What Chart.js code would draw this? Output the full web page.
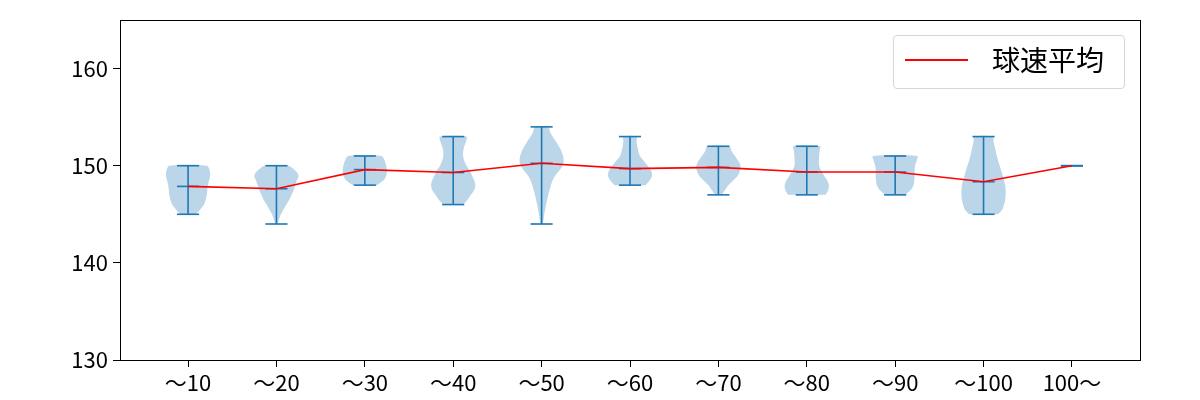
<!DOCTYPE html>
<html>
<head>
<meta charset="utf-8">
<script src="https://cdn.jsdelivr.net/npm/chart.js@4.4.0/dist/chart.umd.min.js"></script>
<style>
  html, body { margin: 0; padding: 0; background: #fff; }
  #wrap { position: relative; width: 1200px; height: 400px; }
  #legend {
    position: absolute; left: 893px; top: 35px; width: 230px; height: 52px;
    border: 1px solid #d6d6d6; border-radius: 4px; background: rgba(255,255,255,.8);
    font-family: "Noto Sans CJK JP", "Noto Sans", sans-serif;
  }
  #legend .swatch { position: absolute; left: 11px; top: 23px; width: 63px; height: 2px; background: #ff0000; }
  #legend .txt { position: absolute; left: 98px; top: 5px; font-size: 28px; line-height: 36px; color: #000; }
</style>
</head>
<body>
<div id="wrap">
  <canvas id="c" width="1200" height="400"></canvas>
  <div id="legend"><span class="swatch"></span><span class="txt">球速平均</span></div>
</div>
<script>
/* violin plot: speed distribution per pitch-count bucket, mean line in red */
const categories = ["〜10", "〜20", "〜30", "〜40", "〜50", "〜60", "〜70", "〜80", "〜90", "〜100", "100〜"];
const minVals  = [145, 144, 148, 146, 144, 148, 147, 147, 147, 145, 150];
const maxVals  = [150, 150, 151, 153, 154, 153, 152, 152, 151, 153, 150];
const meanVals = [147.87, 147.63, 149.6, 149.3, 150.25, 149.7, 149.83, 149.35, 149.35, 148.35, 150.0];
const yTicks = [130, 140, 150, 160];

// relative violin width, read every 0.5 km/h starting at each minimum
const densityStep = 0.5;
const densityWidths = [
  [0.35, 0.55, 0.72, 0.8, 0.85, 0.87, 0.9, 0.95, 1.0, 0.98, 0.85],
  [0.05, 0.12, 0.2, 0.32, 0.45, 0.58, 0.68, 0.78, 0.85, 0.93, 1.0, 0.85, 0.55],
  [0.55, 0.85, 0.97, 1.0, 0.97, 0.9, 0.76],
  [0.45, 0.65, 0.8, 0.95, 1.0, 0.95, 0.85, 0.75, 0.6, 0.5, 0.45, 0.45, 0.5, 0.58, 0.6],
  [0.06, 0.09, 0.12, 0.16, 0.2, 0.25, 0.3, 0.36, 0.42, 0.5, 0.62, 0.8, 0.95, 1.0, 0.97, 0.9, 0.78, 0.65, 0.5, 0.38, 0.3],
  [0.7, 0.9, 1.0, 0.95, 0.8, 0.62, 0.45, 0.38, 0.33, 0.3, 0.3],
  [0.15, 0.3, 0.45, 0.68, 0.88, 0.98, 1.0, 0.9, 0.75, 0.6, 0.5],
  [0.85, 0.97, 1.0, 0.92, 0.78, 0.65, 0.56, 0.55, 0.56, 0.58, 0.6],
  [0.45, 0.7, 0.83, 0.87, 0.88, 0.88, 0.9, 0.97, 1.0],
  [0.65, 0.85, 0.93, 0.98, 1.0, 1.0, 0.98, 0.92, 0.86, 0.8, 0.73, 0.66, 0.6, 0.55, 0.5, 0.45, 0.42],
  [],
];

const FONT = '"Noto Sans CJK JP", "Noto Sans", sans-serif';
const BLUE = "#1f77b4";
const halfWidth = 0.25, capHalf = 0.125;

const datasets = [];
const seg = (pts, extra) => Object.assign({
  type: "scatter", data: pts, showLine: true, pointRadius: 0,
  borderColor: BLUE, borderWidth: 1.6, fill: false, order: 1,
}, extra || {});

categories.forEach((c, i) => {
  const x = i + 1, w = densityWidths[i];
  if (w.length) {
    const right = w.map((v, k) => ({ x: x + halfWidth * v, y: minVals[i] + k * densityStep }));
    const left = w.map((v, k) => ({ x: x - halfWidth * v, y: minVals[i] + k * densityStep })).reverse();
    datasets.push({
      type: "scatter", data: right.concat(left), showLine: true, pointRadius: 0,
      borderWidth: 0, borderColor: "transparent", backgroundColor: "rgba(31,119,180,0.3)",
      fill: "shape", tension: 0.3, order: 3,
    });
  }
  datasets.push(seg([{ x, y: minVals[i] }, { x, y: maxVals[i] }]));
  [minVals[i], maxVals[i], meanVals[i]].forEach(v =>
    datasets.push(seg([{ x: x - capHalf, y: v }, { x: x + capHalf, y: v }])));
});

datasets.push({
  type: "line", label: "球速平均",
  data: meanVals.map((v, i) => ({ x: i + 1, y: v })),
  borderColor: "#ff0000", borderWidth: 1.6, pointRadius: 0, fill: false, tension: 0, order: 0,
});

const frame = {
  id: "frame",
  afterDatasetsDraw(chart) {
    const a = chart.chartArea, ctx = chart.ctx;
    ctx.save();
    ctx.strokeStyle = "#000"; ctx.lineWidth = 1;
    ctx.strokeRect(Math.round(a.left) + 0.5, Math.round(a.top) + 0.5,
      Math.round(a.right - a.left), Math.round(a.bottom - a.top));
    ctx.restore();
  },
};

new Chart(document.getElementById("c"), {
  type: "scatter",
  data: { datasets },
  plugins: [frame],
  options: {
    responsive: false, animation: false, devicePixelRatio: 1,
    layout: { padding: { left: 0, right: 60, top: 20, bottom: 0 } },
    plugins: { legend: { display: false }, tooltip: { enabled: false } },
    scales: {
      x: {
        type: "linear", min: 0.23, max: 11.77,
        afterBuildTicks: s => { s.ticks = categories.map((c, i) => ({ value: i + 1 })); },
        afterFit: s => { s.height = 40; },
        grid: { display: true, drawOnChartArea: false, tickLength: 7, color: "#000", tickColor: "#000" },
        border: { display: true, color: "#000", width: 1 },
        ticks: { autoSkip: false, maxRotation: 0, padding: 2, color: "#000",
          font: { family: FONT, size: 22 }, callback: v => categories[Math.round(v) - 1] },
      },
      y: {
        min: 130, max: 165,
        afterBuildTicks: s => { s.ticks = yTicks.map(v => ({ value: v })); },
        afterFit: s => { s.width = 120; },
        grid: { display: true, drawOnChartArea: false, tickLength: 7, color: "#000", tickColor: "#000" },
        border: { display: true, color: "#000", width: 1 },
        ticks: { padding: 5, color: "#000", font: { family: FONT, size: 22 } },
      },
    },
  },
});
</script>
</body>
</html>
